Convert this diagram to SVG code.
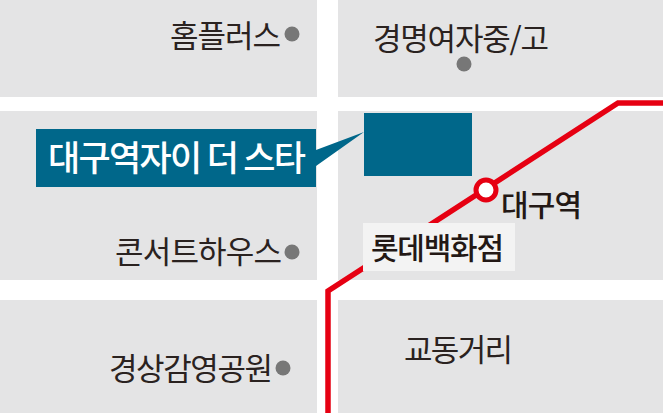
<svg xmlns="http://www.w3.org/2000/svg" width="663" height="413" viewBox="0 0 663 413">
<style>
.b{fill:#e4e4e5}
.t{font-family:"Noto Sans CJK KR","Noto Sans",sans-serif;font-size:31px;font-weight:400;fill:#2a2220}
.d{fill:#777}
.k{font-family:"Noto Sans CJK KR",sans-serif;font-size:30px;font-weight:500;fill:#231815}
</style>
<rect width="663" height="413" fill="#fff"/>
<g id="blocks">
<rect class="b" x="0" y="0" width="317" height="97"/>
<rect class="b" x="338" y="0" width="325" height="97"/>
<rect class="b" x="0" y="111" width="317" height="169"/>
<rect class="b" x="338" y="111" width="325" height="169"/>
<rect class="b" x="0" y="300" width="317" height="113"/>
<rect class="b" x="338" y="300" width="325" height="113"/>
</g>
<g id="connectors">
<polyline points="328,413 328,291 618,103 663,103" fill="none" stroke="#e60012" stroke-width="5.5"/>
</g>
<g id="n1"><text class="t" x="170" y="47" textLength="111">홈플러스</text><circle class="d" cx="292" cy="34" r="7.5"/></g>
<g id="n2"><text class="t" x="373" y="50" textLength="176">경명여자중/고</text><circle class="d" cx="464" cy="64" r="7.5"/></g>
<g id="n3"><text class="t" x="115" y="263" textLength="167">콘서트하우스</text><circle class="d" cx="292" cy="252" r="7.5"/></g>
<g id="n4"><text class="t" x="109" y="380" textLength="164">경상감영공원</text><circle class="d" cx="283" cy="368" r="7.5"/></g>
<g id="n5"><text class="t" x="404" y="361" textLength="109">교동거리</text></g>
<g id="site"><rect x="364" y="113" width="108" height="63" fill="#00678a"/>
<polygon points="36,129 316,129 316,150 364,132 316,166 316,187 36,187" fill="#00678a"/>
<text x="48" y="171" font-family="Noto Sans CJK KR,sans-serif" font-size="35" font-weight="500" fill="#fff" textLength="258">대구역자이 더 스타</text></g>
<g id="station"><circle cx="486" cy="190" r="10" fill="#fff" stroke="#e60012" stroke-width="5"/><text class="k" x="501" y="216" textLength="81">대구역</text></g>
<g id="lotte"><rect x="363" y="223" width="152" height="48" fill="#f3f3f3"/><text class="k" x="371" y="259" textLength="133">롯데백화점</text></g>
</svg>
